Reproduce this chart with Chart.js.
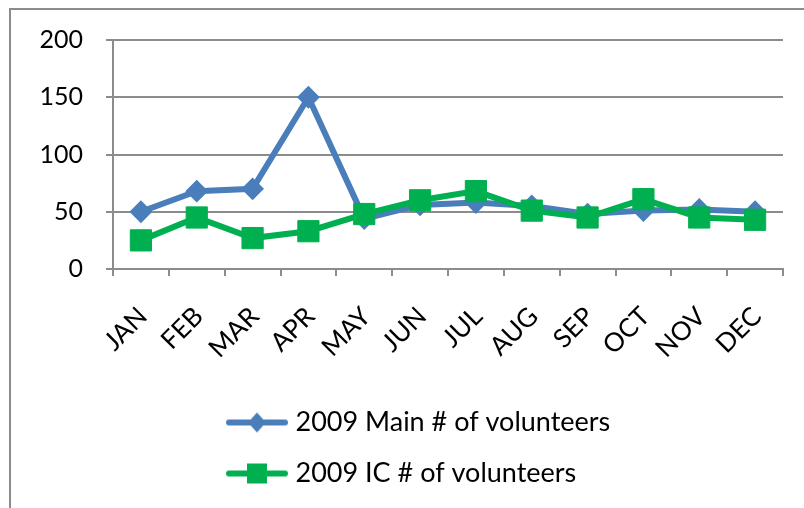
<!DOCTYPE html>
<html>
<head>
<meta charset="utf-8">
<script src="https://cdn.jsdelivr.net/npm/chart.js@4.4.0/dist/chart.umd.min.js"></script>
<style>
  html, body { margin: 0; padding: 0; background: #fff; }
  #chart { display: block; }
</style>
</head>
<body>
<canvas id="chart" width="804" height="508"></canvas>
<script>
const months = ["JAN", "FEB", "MAR", "APR", "MAY", "JUN", "JUL", "AUG", "SEP", "OCT", "NOV", "DEC"];
const mainVolunteers = [50, 68, 70, 150, 44, 56, 58, 55, 48, 51, 52, 50];
const icVolunteers = [25, 45, 27, 33, 48, 60, 68, 51, 45, 61, 45, 43];
const seriesNames = ["2009 Main # of volunteers", "2009 IC # of volunteers"];
const yTicks = [0, 50, 100, 150, 200];

const BLUE = "#4a7ebb";
const GREEN = "#00b050";
const GRID = "#8c8c8c";

// legend marker: line with the point shape in the middle, left part left empty
function legendMarker(color, shape, w) {
  const c = document.createElement("canvas");
  c.width = w;
  c.height = 30;
  const g = c.getContext("2d");
  const cy = 15, cx = w - 31;
  g.strokeStyle = color;
  g.lineWidth = 6;
  g.lineCap = "round";
  g.beginPath();
  g.moveTo(w - 59, cy);
  g.lineTo(w - 3, cy);
  g.stroke();
  g.fillStyle = color;
  g.beginPath();
  if (shape === "diamond") {
    g.moveTo(cx, cy - 10);
    g.lineTo(cx + 9, cy);
    g.lineTo(cx, cy + 10);
    g.lineTo(cx - 9, cy);
  } else {
    g.rect(cx - 10, cy - 10, 20, 20);
  }
  g.fill();
  return c;
}

const frame = {
  id: "frame",
  beforeDraw(chart) {
    const ctx = chart.ctx;
    ctx.save();
    ctx.strokeStyle = GRID;
    ctx.lineWidth = 2;
    ctx.strokeRect(10, 9, 900, 600);
    ctx.restore();
  }
};

function draw() {
  Chart.defaults.font.family = "Lato";
  Chart.defaults.font.size = 25;
  Chart.defaults.color = "#000";

  const legendPad = 24;
  const boxW = 282 - legendPad;
  const markers = [legendMarker(BLUE, "diamond", boxW + 12), legendMarker(GREEN, "square", boxW + 12)];

  new Chart(document.getElementById("chart"), {
    type: "line",
    data: {
      labels: months,
      datasets: [
        {
          label: seriesNames[0],
          data: mainVolunteers,
          borderColor: BLUE,
          backgroundColor: BLUE,
          borderWidth: 6,
          pointStyle: "rectRot",
          pointRadius: 10,
          pointBorderWidth: 2,
          pointBackgroundColor: BLUE,
          pointBorderColor: BLUE,
          order: 1
        },
        {
          label: seriesNames[1],
          data: icVolunteers,
          borderColor: GREEN,
          backgroundColor: GREEN,
          borderWidth: 6,
          pointStyle: "rect",
          pointRadius: 15,
          pointBorderWidth: 1,
          pointBackgroundColor: GREEN,
          pointBorderColor: GREEN,
          order: 0
        }
      ]
    },
    options: {
      responsive: false,
      animation: false,
      events: [],
      layout: { padding: { top: 40, right: 21, bottom: 11, left: 0 } },
      scales: {
        x: {
          offset: true,
          grid: { offset: true, drawOnChartArea: false, color: GRID, lineWidth: 2, tickLength: 7 },
          border: { color: GRID, width: 2 },
          ticks: { minRotation: 45, maxRotation: 45, autoSkip: false, padding: 25, labelOffset: 2, font: { size: 26 } },
          afterFit: (s) => { s.height = 116; }
        },
        y: {
          min: 0,
          max: 200,
          afterBuildTicks: (s) => { s.ticks = yTicks.map((v) => ({ value: v })); },
          grid: { color: GRID, lineWidth: 2, tickLength: 7 },
          border: { color: GRID, width: 2 },
          ticks: { padding: 23 },
          afterFit: (s) => { s.width = 113; }
        }
      },
      plugins: {
        tooltip: { enabled: false },
        legend: {
          position: "bottom",
          align: "start",
          labels: {
            usePointStyle: true,
            pointStyleWidth: boxW,
            padding: legendPad,
            color: "#000",
            font: { size: 27 },
            generateLabels(chart) {
              const items = Chart.defaults.plugins.legend.labels.generateLabels(chart);
              items.sort((a, b) => a.datasetIndex - b.datasetIndex);
              items.forEach((it) => { it.pointStyle = markers[it.datasetIndex]; });
              return items;
            }
          }
        }
      }
    },
    plugins: [frame]
  });
}

if (document.fonts && document.fonts.load) {
  document.fonts.load("25px Lato").then(draw, draw);
} else {
  draw();
}
</script>
</body>
</html>
